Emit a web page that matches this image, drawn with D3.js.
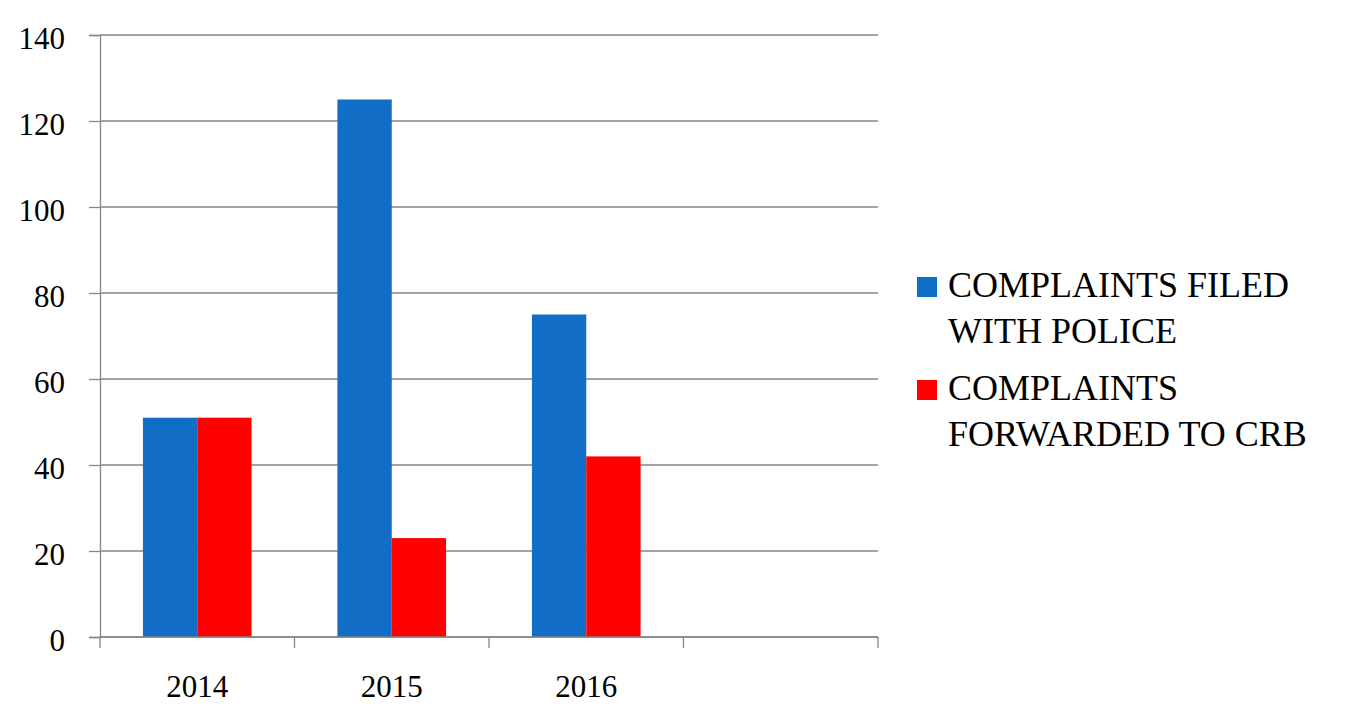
<!DOCTYPE html>
<html><head><meta charset="utf-8">
<script src="https://cdn.jsdelivr.net/npm/d3@7"></script>
<style>body{margin:0;background:#fff}</style>
</head><body><svg id="c" width="1350" height="720"></svg>
<script>
const categories = ["2014","2015","2016",""];
const seriesNames = ["COMPLAINTS FILED WITH POLICE","COMPLAINTS FORWARDED TO CRB"];
const legendLines = [["COMPLAINTS FILED","WITH POLICE"],["COMPLAINTS","FORWARDED TO CRB"]];
const filedWithPolice = [51,125,75,null];
const forwardedToCRB = [51,23,42,null];
const yTicks = [0,20,40,60,80,100,120,140];
const colors = ["#116DC6","#FF0000"];
const FONT = '"Liberation Serif","Times New Roman",serif';

const svg = d3.select("#c");
const L=100,R=878,T=35,B=637;
const x = d3.scaleBand().domain(categories.map((d,i)=>i)).range([L,R]).padding(0);
const xs = d3.scaleBand().domain([0,1]).range([0,x.bandwidth()]).paddingOuter(0.79).paddingInner(0);
const y = d3.scaleLinear().domain([0,140]).range([B,T]);

// grid
svg.append("g").selectAll("line").data(yTicks).join("line")
  .attr("x1",L).attr("x2",R).attr("y1",d=>y(d)).attr("y2",d=>y(d))
  .attr("stroke","#868686").attr("stroke-width",1.3);

const series=[filedWithPolice,forwardedToCRB];
series.forEach((s,si)=>{
  svg.append("g").selectAll("rect").data(s.map((v,i)=>({v,i})).filter(d=>d.v!=null)).join("rect")
    .attr("x",d=>x(d.i)+xs(si)).attr("width",xs.bandwidth())
    .attr("y",d=>y(d.v)).attr("height",d=>B-y(d.v)).attr("fill",colors[si]);
});

// y axis
const ya = svg.append("g").attr("transform",`translate(${L},0)`)
  .call(d3.axisLeft(y).tickValues(yTicks).tickSize(11).tickPadding(24));
ya.select(".domain").attr("stroke","#868686").attr("stroke-width",1.3);
ya.selectAll(".tick line").attr("stroke","#868686").attr("stroke-width",1.3);
ya.selectAll("text").style("font-family",FONT).style("font-size","31px").attr("fill","#000").attr("dy","0.42em");

// x axis
const xa = svg.append("g").attr("transform",`translate(0,${B})`);
xa.append("line").attr("x1",L).attr("x2",R).attr("stroke","#868686").attr("stroke-width",1.3);
const edges = categories.map((d,i)=>x(i)).concat([R]);
xa.selectAll(".tk").data(edges).join("line").attr("class","tk")
  .attr("x1",d=>d).attr("x2",d=>d).attr("y1",0).attr("y2",11)
  .attr("stroke","#868686").attr("stroke-width",1.3);
xa.selectAll(".lb").data(categories).join("text").attr("class","lb")
  .attr("x",(d,i)=>x(i)+x.bandwidth()/2).attr("y",60)
  .attr("text-anchor","middle").style("font-family",FONT).style("font-size","31px").text(d=>d);

// legend
const lg = svg.append("g");
const tops=[277,380];
legendLines.forEach((lines,i)=>{
  const top = tops[i];
  lg.append("rect").attr("x",917).attr("y",top).attr("width",20).attr("height",20).attr("fill",colors[i]);
  lines.forEach((t,j)=>{
    lg.append("text").attr("x",948).attr("y",top+20+j*46)
      .style("font-family",FONT).style("font-size","36px").text(t);
  });
});
</script></body></html>
